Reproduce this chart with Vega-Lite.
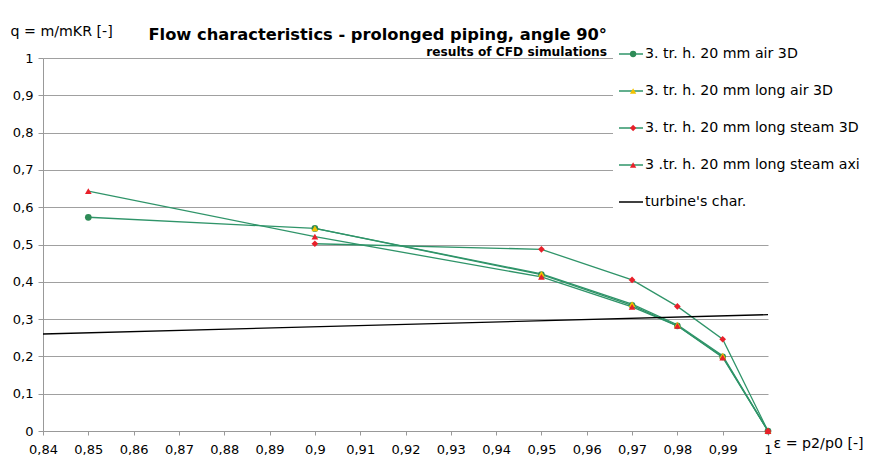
{
  "$schema": "https://vega.github.io/schema/vega-lite/v6.json",
  "width": 725,
  "height": 373,
  "autosize": {"type": "none"},
  "padding": {"left": 43, "top": 58, "right": 113, "bottom": 35},
  "background": "white",
  "config": {
    "font": "DejaVu Sans",
    "view": {"stroke": null},
    "axis": {"labelFont": "DejaVu Sans", "titleFont": "DejaVu Sans", "labelColor": "#000", "titleColor": "#000"},
    "legend": {"labelFont": "DejaVu Sans", "labelColor": "#000"}
  },
  "title": {
    "text": "Flow characteristics - prolonged piping, angle 90°",
    "subtitle": "results of CFD simulations",
    "anchor": "end",
    "frame": "group",
    "dx": -161,
    "dy": 37,
    "offset": 3,
    "font": "DejaVu Sans",
    "fontSize": 16.3,
    "fontWeight": "bold",
    "color": "#000",
    "subtitleFont": "DejaVu Sans",
    "subtitleFontSize": 12.2,
    "subtitleFontWeight": "bold",
    "subtitleColor": "#000",
    "subtitlePadding": 3
  },
  "data": {
    "values": [
      {"series": "3. tr. h. 20 mm air 3D", "eps": 0.85, "q": 0.573},
      {"series": "3. tr. h. 20 mm air 3D", "eps": 0.9, "q": 0.543},
      {"series": "3. tr. h. 20 mm air 3D", "eps": 0.95, "q": 0.419},
      {"series": "3. tr. h. 20 mm air 3D", "eps": 0.97, "q": 0.337},
      {"series": "3. tr. h. 20 mm air 3D", "eps": 0.98, "q": 0.282},
      {"series": "3. tr. h. 20 mm air 3D", "eps": 0.99, "q": 0.199},
      {"series": "3. tr. h. 20 mm air 3D", "eps": 1, "q": 0},
      {"series": "3. tr. h. 20 mm long air 3D", "eps": 0.9, "q": 0.543},
      {"series": "3. tr. h. 20 mm long air 3D", "eps": 0.95, "q": 0.421},
      {"series": "3. tr. h. 20 mm long air 3D", "eps": 0.97, "q": 0.34},
      {"series": "3. tr. h. 20 mm long air 3D", "eps": 0.98, "q": 0.285},
      {"series": "3. tr. h. 20 mm long air 3D", "eps": 0.99, "q": 0.202},
      {"series": "3. tr. h. 20 mm long air 3D", "eps": 1, "q": 0},
      {"series": "3. tr. h. 20 mm long steam 3D", "eps": 0.9, "q": 0.502},
      {"series": "3. tr. h. 20 mm long steam 3D", "eps": 0.95, "q": 0.487},
      {"series": "3. tr. h. 20 mm long steam 3D", "eps": 0.97, "q": 0.405},
      {"series": "3. tr. h. 20 mm long steam 3D", "eps": 0.98, "q": 0.334},
      {"series": "3. tr. h. 20 mm long steam 3D", "eps": 0.99, "q": 0.246},
      {"series": "3. tr. h. 20 mm long steam 3D", "eps": 1, "q": 0},
      {"series": "3 .tr. h. 20 mm long steam axi", "eps": 0.85, "q": 0.643},
      {"series": "3 .tr. h. 20 mm long steam axi", "eps": 0.9, "q": 0.521},
      {"series": "3 .tr. h. 20 mm long steam axi", "eps": 0.95, "q": 0.413},
      {"series": "3 .tr. h. 20 mm long steam axi", "eps": 0.97, "q": 0.333},
      {"series": "3 .tr. h. 20 mm long steam axi", "eps": 0.98, "q": 0.282},
      {"series": "3 .tr. h. 20 mm long steam axi", "eps": 0.99, "q": 0.197},
      {"series": "3 .tr. h. 20 mm long steam axi", "eps": 1, "q": 0},
      {"series": "turbine's char.", "eps": 0.84, "q": 0.26},
      {"series": "turbine's char.", "eps": 1, "q": 0.312}
    ]
  },
  "encoding": {
    "x": {
      "field": "eps",
      "type": "quantitative",
      "scale": {"domain": [0.84, 1], "nice": false, "zero": false},
      "axis": {
        "values": [0.84, 0.85, 0.86, 0.87, 0.88, 0.89, 0.9, 0.91, 0.92, 0.93, 0.94, 0.95, 0.96, 0.97, 0.98, 0.99, 1],
        "labelExpr": "replace(format(datum.value, '.2~f'), '.', ',')",
        "labelFontSize": 13,
        "labelPadding": 8,
        "labelFlush": false,
        "labelOverlap": false,
        "tickSize": 4,
        "tickColor": "#999",
        "domainColor": "#999",
        "grid": false,
        "title": "ε = p2/p0 [-]",
        "titleFontSize": 14.2,
        "titleFontWeight": "normal",
        "titleAngle": 0,
        "titleAlign": "left",
        "titleBaseline": "middle",
        "titleX": 730,
        "titleY": 12
      }
    },
    "y": {
      "field": "q",
      "type": "quantitative",
      "scale": {"domain": [0, 1], "nice": false},
      "axis": {
        "values": [0, 0.1, 0.2, 0.3, 0.4, 0.5, 0.6, 0.7, 0.8, 0.9, 1],
        "labelExpr": "replace(format(datum.value, '.1~f'), '.', ',')",
        "labelFontSize": 13,
        "labelPadding": 5,
        "labelFlush": false,
        "labelOverlap": false,
        "tickSize": 5,
        "tickColor": "#999",
        "domainColor": "#999",
        "grid": true,
        "gridColor": "#a0a0a0",
        "gridWidth": 1,
        "title": "q = m/mKR [-]",
        "titleFontSize": 14.2,
        "titleFontWeight": "normal",
        "titleAngle": 0,
        "titleAlign": "left",
        "titleBaseline": "middle",
        "titleX": -33,
        "titleY": -27
      }
    }
  },
  "layer": [
    {
      "mark": {"type": "line", "interpolate": "linear"},
      "encoding": {
        "color": {
          "field": "series",
          "type": "nominal",
          "scale": {
            "domain": ["3. tr. h. 20 mm air 3D", "3. tr. h. 20 mm long air 3D", "3. tr. h. 20 mm long steam 3D", "3 .tr. h. 20 mm long steam axi", "turbine's char."],
            "range": ["#2f9469", "#2f9469", "#2f9469", "#2f9469", "#000000"]
          },
          "legend": {
            "orient": "none",
            "legendX": 570,
            "legendY": -21,
            "title": null,
            "symbolType": "stroke",
            "symbolSize": 576,
            "symbolStrokeWidth": 1.2,
            "clipHeight": 24,
            "rowPadding": 13,
            "labelFontSize": 14.2,
            "labelLimit": 400,
            "labelOffset": 1,
            "padding": 5,
            "fillColor": "white",
            "strokeColor": null
          }
        },
        "strokeWidth": {
          "field": "series",
          "type": "nominal",
          "scale": {
            "domain": ["3. tr. h. 20 mm air 3D", "3. tr. h. 20 mm long air 3D", "3. tr. h. 20 mm long steam 3D", "3 .tr. h. 20 mm long steam axi", "turbine's char."],
            "range": [1.3, 1.3, 1.3, 1.3, 2.2]
          }
        }
      }
    },
    {
      "transform": [{"filter": "datum.series != \"turbine's char.\""}],
      "mark": {"type": "point", "filled": true, "size": 45, "opacity": 1},
      "encoding": {
        "fill": {
          "field": "series",
          "type": "nominal",
          "scale": {
            "domain": ["3. tr. h. 20 mm air 3D", "3. tr. h. 20 mm long air 3D", "3. tr. h. 20 mm long steam 3D", "3 .tr. h. 20 mm long steam axi"],
            "range": ["#2e8b57", "#f2c200", "#e8202a", "#e8202a"]
          },
          "legend": {
            "orient": "none",
            "legendX": 578,
            "legendY": -21,
            "title": null,
            "symbolSize": 40,
            "clipHeight": 24,
            "rowPadding": 13,
            "labelFontSize": 14.2,
            "labelExpr": "''",
            "padding": 5,
            "fillColor": null,
            "strokeColor": null
          }
        },
        "shape": {
          "field": "series",
          "type": "nominal",
          "scale": {
            "domain": ["3. tr. h. 20 mm air 3D", "3. tr. h. 20 mm long air 3D", "3. tr. h. 20 mm long steam 3D", "3 .tr. h. 20 mm long steam axi"],
            "range": ["circle", "triangle-up", "diamond", "triangle-up"]
          }
        }
      }
    }
  ]
}
